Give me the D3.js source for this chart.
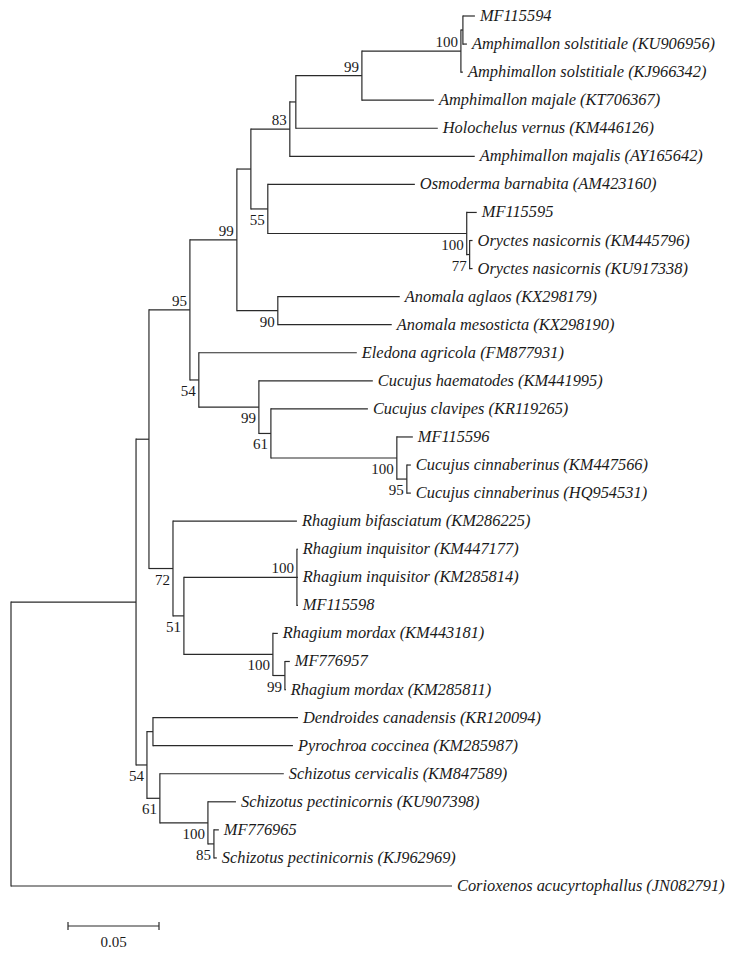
<!DOCTYPE html>
<meta charset="utf-8">
<style>
body { margin: 0; background: #fff; }
.branch { stroke: #2a2a2a; stroke-width: 1.2; fill: none; }
.leaf { font-family: "Liberation Serif", "DejaVu Serif", serif; font-style: italic; font-size: 16.4px; fill: #1a1a1a; }
.boot { font-family: "Liberation Serif", "DejaVu Serif", serif; font-size: 15px; fill: #1a1a1a; }
</style>
<body>
<script src="https://d3js.org/d3.v7.min.js"></script>
<script>

var width = 751;
var height = 954;

// leaf order, top to bottom
var taxa = [
  "MF115594",
  "Amphimallon solstitiale (KU906956)",
  "Amphimallon solstitiale (KJ966342)",
  "Amphimallon majale (KT706367)",
  "Holochelus vernus (KM446126)",
  "Amphimallon majalis (AY165642)",
  "Osmoderma barnabita (AM423160)",
  "MF115595",
  "Oryctes nasicornis (KM445796)",
  "Oryctes nasicornis (KU917338)",
  "Anomala aglaos (KX298179)",
  "Anomala mesosticta (KX298190)",
  "Eledona agricola (FM877931)",
  "Cucujus haematodes (KM441995)",
  "Cucujus clavipes (KR119265)",
  "MF115596",
  "Cucujus cinnaberinus (KM447566)",
  "Cucujus cinnaberinus (HQ954531)",
  "Rhagium bifasciatum (KM286225)",
  "Rhagium inquisitor (KM447177)",
  "Rhagium inquisitor (KM285814)",
  "MF115598",
  "Rhagium mordax (KM443181)",
  "MF776957",
  "Rhagium mordax (KM285811)",
  "Dendroides canadensis (KR120094)",
  "Pyrochroa coccinea (KM285987)",
  "Schizotus cervicalis (KM847589)",
  "Schizotus pectinicornis (KU907398)",
  "MF776965",
  "Schizotus pectinicornis (KJ962969)",
  "Corioxenos acucyrtophallus (JN082791)"
];

// [child, parent, branch length]
var branches = [
  ["ing", "root", 0.0687],
  ["Corioxenos acucyrtophallus (JN082791)", "root", 0.2423],
  ["nB", "ing", 0.0071],
  ["n54b", "ing", 0.0060],
  ["n95", "nB", 0.0225],
  ["n72", "nB", 0.0132],
  ["n99a", "n95", 0.0258],
  ["n54a", "n95", 0.0049],
  ["n251", "n99a", 0.0077],
  ["n90", "n99a", 0.0225],
  ["n83", "n251", 0.0214],
  ["n55", "n251", 0.0093],
  ["n296", "n83", 0.0033],
  ["Amphimallon majalis (AY165642)", "n83", 0.1016],
  ["n99b", "n296", 0.0363],
  ["Holochelus vernus (KM446126)", "n296", 0.0780],
  ["n100a", "n99b", 0.0544],
  ["Amphimallon majale (KT706367)", "n99b", 0.0396],
  ["n463", "n100a", 0.0011],
  ["Amphimallon solstitiale (KJ966342)", "n100a", 0.0011],
  ["MF115594", "n463", 0.0066],
  ["Amphimallon solstitiale (KU906956)", "n463", 0.0022],
  ["Osmoderma barnabita (AM423160)", "n55", 0.0808],
  ["n100b", "n55", 0.1093],
  ["MF115595", "n100b", 0.0055],
  ["n77", "n100b", 0.0016],
  ["Oryctes nasicornis (KM445796)", "n77", 0.0016],
  ["Oryctes nasicornis (KU917338)", "n77", 0.0016],
  ["Anomala aglaos (KX298179)", "n90", 0.0670],
  ["Anomala mesosticta (KX298190)", "n90", 0.0626],
  ["Eledona agricola (FM877931)", "n54a", 0.0868],
  ["n99c", "n54a", 0.0330],
  ["Cucujus haematodes (KM441995)", "n99c", 0.0626],
  ["n61a", "n99c", 0.0066],
  ["Cucujus clavipes (KR119265)", "n61a", 0.0533],
  ["n100c", "n61a", 0.0692],
  ["MF115596", "n100c", 0.0088],
  ["n95b", "n100c", 0.0055],
  ["Cucujus cinnaberinus (KM447566)", "n95b", 0.0022],
  ["Cucujus cinnaberinus (HQ954531)", "n95b", 0.0022],
  ["Rhagium bifasciatum (KM286225)", "n72", 0.0681],
  ["n51", "n72", 0.0060],
  ["n100d", "n51", 0.0621],
  ["Rhagium inquisitor (KM447177)", "n100d", 0.0005],
  ["Rhagium inquisitor (KM285814)", "n100d", 0.0005],
  ["MF115598", "n100d", 0.0005],
  ["n100e", "n51", 0.0489],
  ["Rhagium mordax (KM443181)", "n100e", 0.0027],
  ["n99d", "n100e", 0.0066],
  ["MF776957", "n99d", 0.0027],
  ["Rhagium mordax (KM285811)", "n99d", 0.0005],
  ["nD", "n54b", 0.0033],
  ["Dendroides canadensis (KR120094)", "nD", 0.0797],
  ["Pyrochroa coccinea (KM285987)", "nD", 0.0769],
  ["n61b", "n54b", 0.0071],
  ["Schizotus cervicalis (KM847589)", "n61b", 0.0681],
  ["n100f", "n61b", 0.0264],
  ["Schizotus pectinicornis (KU907398)", "n100f", 0.0154],
  ["n85", "n100f", 0.0033],
  ["MF776965", "n85", 0.0027],
  ["Schizotus pectinicornis (KJ962969)", "n85", 0.0016]
];

// bootstrap values
var support = [
  ["n100a", 100], ["n99b", 99], ["n83", 83], ["n99a", 99], ["n55", 55],
  ["n100b", 100], ["n77", 77], ["n90", 90], ["n95", 95], ["n54a", 54],
  ["n99c", 99], ["n61a", 61], ["n100c", 100], ["n95b", 95], ["n72", 72],
  ["n51", 51], ["n100d", 100], ["n100e", 100], ["n99d", 99], ["n54b", 54],
  ["n61b", 61], ["n100f", 100], ["n85", 85]
];

var scaleBarLength = 0.05;

var rows = [{ id: "root", parentId: null, length: 0 }].concat(
  branches.map(b => ({ id: b[0], parentId: b[1], length: b[2] })));
var root = d3.stratify()(rows);
var bootMap = new Map(support);

var x = d3.scaleLinear().domain([0, 0.26]).range([11, 11 + 0.26 * 1820]);
var y = d3.scaleLinear().domain([0, taxa.length - 1]).range([16, 886]);

root.eachBefore(d => { d.dist = d.parent ? d.parent.dist + d.data.length : 0; });
root.eachAfter(d => {
  if (d.children) {
    var ys = d.children.map(c => c.py);
    d.py = (d3.min(ys) + d3.max(ys)) / 2;
  } else {
    d.py = y(taxa.indexOf(d.id));
  }
  d.px = x(d.dist);
});

var svg = d3.select('body').append('svg')
  .attr('width', width)
  .attr('height', height);

var g = svg.append('g');

// horizontal branches
g.selectAll('.hline')
  .data(root.descendants().filter(d => d.parent))
  .enter().append('line')
  .attr('class', 'branch')
  .attr('x1', d => d.parent.px)
  .attr('x2', d => d.px)
  .attr('y1', d => d.py)
  .attr('y2', d => d.py);

// vertical connectors
g.selectAll('.vline')
  .data(root.descendants().filter(d => d.children))
  .enter().append('line')
  .attr('class', 'branch')
  .attr('x1', d => d.px)
  .attr('x2', d => d.px)
  .attr('y1', d => d3.min(d.children, c => c.py) - 0.6)
  .attr('y2', d => d3.max(d.children, c => c.py) + 0.6);

// leaf labels
g.selectAll('.leaf')
  .data(root.leaves())
  .enter().append('text')
  .attr('class', 'leaf')
  .attr('x', d => d.px + 5)
  .attr('y', d => d.py + 5)
  .text(d => d.id);

// bootstrap labels: above the branch for upper child, below for lower child
g.selectAll('.boot')
  .data(root.descendants().filter(d => bootMap.has(d.id)))
  .enter().append('text')
  .attr('class', 'boot')
  .attr('text-anchor', 'end')
  .attr('x', d => d.px - 3)
  .attr('y', d => d.py < d.parent.py ? d.py - 4 : d.py + 16)
  .text(d => bootMap.get(d.id));

// scale bar
var barX = 68, barY = 926;
var barW = x(scaleBarLength) - x(0);
var bar = svg.append('g');
bar.append('line').attr('class', 'branch')
  .attr('x1', barX).attr('x2', barX + barW).attr('y1', barY).attr('y2', barY);
bar.selectAll('.tick')
  .data([barX, barX + barW])
  .enter().append('line')
  .attr('class', 'branch')
  .attr('x1', d => d).attr('x2', d => d)
  .attr('y1', barY - 4).attr('y2', barY + 4);
bar.append('text')
  .attr('class', 'boot')
  .attr('text-anchor', 'middle')
  .attr('x', barX + barW / 2)
  .attr('y', barY + 21)
  .text(scaleBarLength.toFixed(2));

</script>
</body>
</html>
